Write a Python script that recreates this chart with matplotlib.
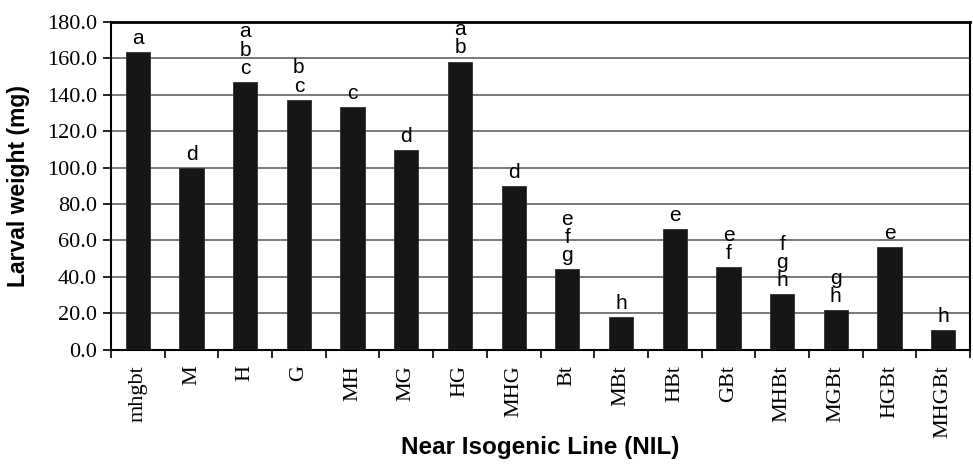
import matplotlib
matplotlib.use("Agg")
import matplotlib.pyplot as plt
import numpy as np

categories = ["mhgbt", "M", "H", "G", "MH", "MG", "HG", "MHG",
              "Bt", "MBt", "HBt", "GBt", "MHBt", "MGBt", "HGBt", "MHGBt"]
weights = [163.2, 99.8, 147.0, 137.2, 133.3, 109.8, 158.2, 90.0,
           44.1, 18.1, 66.4, 45.4, 30.4, 21.8, 56.5, 10.6]
letters = ["a", "d", "a\nb\nc", "b\nc", "c", "d", "a\nb", "d",
           "e\nf\ng", "h", "e", "e\nf", "f\ng\nh", "g\nh", "e", "h"]
yticks = [0, 20, 40, 60, 80, 100, 120, 140, 160, 180]

fig = plt.figure(figsize=(9.73, 4.65), dpi=100)
ax = fig.add_axes([0.114, 0.248, 0.883, 0.705])

x = np.arange(len(categories))
ax.bar(x, weights, width=0.45, color="#161616", edgecolor="#303030",
       linewidth=0.6, zorder=3)

for xi, w, lab in zip(x, weights, letters):
    ax.annotate(lab, (xi, w), xytext=(0, 3), textcoords="offset points",
                ha="center", va="bottom", fontsize=15,
                family="Liberation Sans", linespacing=0.95, zorder=4)

ax.set_xlim(-0.5, len(categories) - 0.5)
ax.set_ylim(0, 180)
ax.set_yticks(yticks)
ax.set_yticklabels([f"{v:.1f}" for v in yticks], family="Liberation Serif",
                   fontsize=16)
ax.yaxis.grid(True, color="#6e6e6e", linewidth=1.3, zorder=0)
ax.set_axisbelow(True)

ax.set_xticks(x)
ax.set_xticklabels(categories, rotation=90, family="Liberation Serif",
                   fontsize=16, va="top")
ax.tick_params(axis="x", length=0, pad=11)
ax.set_xticks(np.arange(-0.5, len(categories) + 0.5, 1), minor=True)
ax.tick_params(axis="x", which="minor", length=6, width=1.2, direction="out")
ax.tick_params(axis="y", length=6, width=1.2, direction="out", pad=4)

for s in ["left", "bottom", "right", "top"]:
    ax.spines[s].set_color("black")
    ax.spines[s].set_linewidth(1.5)
ax.spines["top"].set_linewidth(2.0)

ax.set_ylabel("Larval weight (mg)", family="Liberation Sans",
              fontweight="bold", fontsize=16.5, va="center")
ax.yaxis.set_label_coords(-0.107, 0.5)
ax.set_xlabel("Near Isogenic Line (NIL)", family="Liberation Sans",
              fontweight="bold", fontsize=17.5, va="center")
ax.xaxis.set_label_coords(0.5, -0.297)

fig.savefig("out.png", dpi=100)
